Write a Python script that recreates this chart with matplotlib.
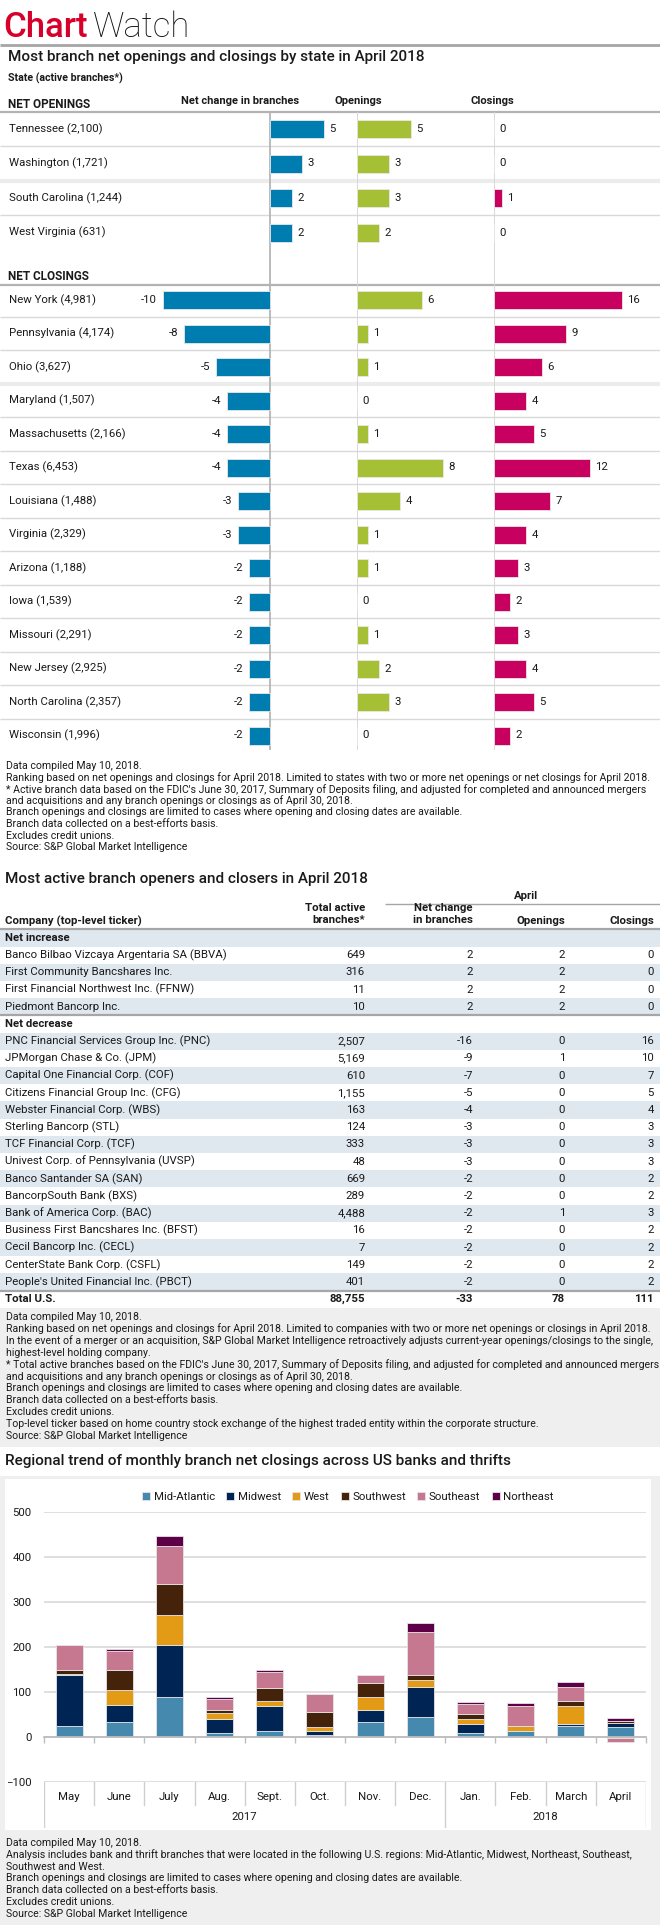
import numpy as np
import matplotlib
matplotlib.use('Agg')
import matplotlib.pyplot as plt
from matplotlib.patches import Rectangle

plt.rcParams['font.family'] = ['Liberation Sans Narrow', 'Roboto', 'DejaVu Sans']
TITLE_FONT = ['Roboto', 'DejaVu Sans']

# ---- chart 1: states
open_states = ['Tennessee', 'Washington', 'South Carolina', 'West Virginia']
open_active = [2100, 1721, 1244, 631]
open_net = [5, 3, 2, 2]
open_openings = [5, 3, 3, 2]
open_closings = [0, 0, 1, 0]

close_states = ['New York', 'Pennsylvania', 'Ohio', 'Maryland', 'Massachusetts', 'Texas',
                'Louisiana', 'Virginia', 'Arizona', 'Iowa', 'Missouri', 'New Jersey',
                'North Carolina', 'Wisconsin']
close_active = [4981, 4174, 3627, 1507, 2166, 6453, 1488, 2329, 1188, 1539, 2291, 2925, 2357, 1996]
close_net = [-10, -8, -5, -4, -4, -4, -3, -3, -2, -2, -2, -2, -2, -2]
close_openings = [6, 1, 1, 0, 1, 8, 4, 1, 1, 0, 1, 2, 3, 0]
close_closings = [16, 9, 6, 4, 5, 12, 7, 4, 3, 2, 3, 4, 5, 2]

# ---- chart 2: companies table
inc_companies = ['Banco Bilbao Vizcaya Argentaria SA (BBVA)', 'First Community Bancshares Inc.',
                 'First Financial Northwest Inc. (FFNW)', 'Piedmont Bancorp Inc.']
inc_active = [649, 316, 11, 10]
inc_net = [2, 2, 2, 2]
inc_open = [2, 2, 2, 2]
inc_close = [0, 0, 0, 0]

dec_companies = ['PNC Financial Services Group Inc. (PNC)', 'JPMorgan Chase & Co. (JPM)',
                 'Capital One Financial Corp. (COF)', 'Citizens Financial Group Inc. (CFG)',
                 'Webster Financial Corp. (WBS)', 'Sterling Bancorp (STL)', 'TCF Financial Corp. (TCF)',
                 'Univest Corp. of Pennsylvania (UVSP)', 'Banco Santander SA (SAN)',
                 'BancorpSouth Bank (BXS)', 'Bank of America Corp. (BAC)',
                 'Business First Bancshares Inc. (BFST)', 'Cecil Bancorp Inc. (CECL)',
                 'CenterState Bank Corp. (CSFL)', "People's United Financial Inc. (PBCT)"]
dec_active = [2507, 5169, 610, 1155, 163, 124, 333, 48, 669, 289, 4488, 16, 7, 149, 401]
dec_net = [-16, -9, -7, -5, -4, -3, -3, -3, -2, -2, -2, -2, -2, -2, -2]
dec_open = [0, 1, 0, 0, 0, 0, 0, 0, 0, 0, 1, 0, 0, 0, 0]
dec_close = [16, 10, 7, 5, 4, 3, 3, 3, 2, 2, 3, 2, 2, 2, 2]

total_row = ('Total U.S.', 88755, -33, 78, 111)

# ---- chart 3: regional monthly net closings
months = ['May', 'June', 'July', 'Aug.', 'Sept.', 'Oct.', 'Nov.', 'Dec.',
          'Jan.', 'Feb.', 'March', 'April']
years = ['2017', '2018']
months_per_year = [8, 4]
regions = ['Mid-Atlantic', 'Midwest', 'West', 'Southwest', 'Southeast', 'Northeast']
mid_atlantic = [24, 33, 90, 9, 14, 4, 34, 44, 10, 14, 24, 23]
midwest = [113, 39, 115, 30, 56, 9, 27, 68, 20, 0, 5, 9]
west = [3, 32, 66, 14, 10, 10, 28, 14, 11, 11, 39, -2]
southwest = [8, 45, 69, 8, 30, 33, 31, 11, 10, 0, 12, 4]
southeast = [57, 43, 85, 24, 35, 39, 17, 96, 23, 45, 32, -9]
northeast = [0, 4, 21, 3, 3, 1, 0, 21, 4, 5, 11, 6]
region_colors = ['#4689AE', '#002554', '#E39A14', '#45230A', '#C5788F', '#5E0047']

notes1 = ['Data compiled May 10, 2018.',
          'Ranking based on net openings and closings for April 2018. Limited to states with two or more net openings or net closings for April 2018.',
          "* Active branch data based on the FDIC's June 30, 2017, Summary of Deposits filing, and adjusted for completed and announced mergers",
          'and acquisitions and any branch openings or closings as of April 30, 2018.',
          'Branch openings and closings are limited to cases where opening and closing dates are available.',
          'Branch data collected on a best-efforts basis.',
          'Excludes credit unions.',
          'Source: S&P Global Market Intelligence']
notes2 = ['Data compiled May 10, 2018.',
          'Ranking based on net openings and closings for April 2018. Limited to companies with two or more net openings or closings in April 2018.',
          'In the event of a merger or an acquisition, S&P Global Market Intelligence retroactively adjusts current-year openings/closings to the single,',
          'highest-level holding company.',
          "* Total active branches based on the FDIC's June 30, 2017, Summary of Deposits filing, and adjusted for completed and announced mergers",
          'and acquisitions and any branch openings or closings as of April 30, 2018.',
          'Branch openings and closings are limited to cases where opening and closing dates are available.',
          'Branch data collected on a best-efforts basis.',
          'Excludes credit unions.',
          'Top-level ticker based on home country stock exchange of the highest traded entity within the corporate structure.',
          'Source: S&P Global Market Intelligence']
notes3 = ['Data compiled May 10, 2018.',
          'Analysis includes bank and thrift branches that were located in the following U.S. regions: Mid-Atlantic, Midwest, Northeast, Southeast,',
          'Southwest and West.',
          'Branch openings and closings are limited to cases where opening and closing dates are available.',
          'Branch data collected on a best-efforts basis.',
          'Excludes credit unions.',
          'Source: S&P Global Market Intelligence']

W, H = 660, 1925
fig = plt.figure(figsize=(W / 100, H / 100), dpi=100)
fig.patch.set_facecolor('white')


def add_ax(x0, y0, x1, y1):
    return fig.add_axes([x0 / W, 1 - y1 / H, (x1 - x0) / W, (y1 - y0) / H])


bg = add_ax(0, 0, W, H)
bg.set_xlim(0, W)
bg.set_ylim(H, 0)
bg.axis('off')

TXT = '#1a1a1a'


def hline(y, x0=0, x1=W, color='#d9d9d9', lw=1.0):
    bg.plot([x0, x1], [y, y], color=color, lw=lw, solid_capstyle='butt', zorder=1)


def notes(lines, y0, step=11.6):
    for i, s in enumerate(lines):
        bg.text(6, y0 + i * step, s, fontsize=7.6, color=TXT, va='center')


# header
t1 = bg.text(3, 37, 'Chart', color='#D6002A', fontsize=25, family=TITLE_FONT,
             weight='medium', va='baseline')
bg.annotate('Watch', xy=(1, 0), xycoords=t1, xytext=(4, 0), textcoords='offset points',
            fontsize=25, family=TITLE_FONT, weight='light', va='bottom', color='#111111')
hline(45, color='#a6a6a6', lw=2)

# ---------------- section 1 ----------------
bg.text(8, 57, 'Most branch net openings and closings by state in April 2018',
        fontsize=11, family=TITLE_FONT, weight='medium', va='center', color=TXT)
bg.text(8, 78, 'State (active branches*)', fontsize=7.6, va='center', color=TXT, weight='bold')
bg.text(8, 104, 'NET OPENINGS', fontsize=8.5, va='center', color=TXT, weight='bold')
bg.text(240, 101, 'Net change in branches', fontsize=8, va='center', ha='center', color=TXT, weight='bold')
bg.text(358, 101, 'Openings', fontsize=8, va='center', ha='center', color=TXT, weight='bold')
bg.text(492, 101, 'Closings', fontsize=8, va='center', ha='center', color=TXT, weight='bold')
hline(112, color='#b3b3b3', lw=1.6)
bg.text(8, 276, 'NET CLOSINGS', fontsize=8.5, va='center', color=TXT, weight='bold')
hline(285, color='#b3b3b3', lw=1.6)

open_y = 129 + 34.5 * np.arange(len(open_states))
close_y = 300 + 33.5 * np.arange(len(close_states))

for i in range(len(open_y) - 1):
    mid = (open_y[i] + open_y[i + 1]) / 2
    if i == 1:
        hline(mid, color='#ececec', lw=3)
    else:
        hline(mid)
for i in range(len(close_y) - 1):
    mid = (close_y[i] + close_y[i + 1]) / 2
    if i == 2:
        hline(mid, color='#ececec', lw=3)
    else:
        hline(mid)

for s, a, y in zip(open_states, open_active, open_y):
    bg.text(9, y, f'{s} ({a:,})', fontsize=8.2, va='center', color=TXT)
for s, a, y in zip(close_states, close_active, close_y):
    bg.text(9, y, f'{s} ({a:,})', fontsize=8.2, va='center', color=TXT)

Y_TOP, Y_BOT = 112, 750


def bar_ax(x0, x1, zero, scale, linecolor):
    ax = add_ax(x0, Y_TOP, x1, Y_BOT)
    ax.set_xlim((x0 - zero) / scale, (x1 - zero) / scale)
    ax.set_ylim(Y_BOT, Y_TOP)
    ax.axis('off')
    ax.axvline(0, color=linecolor, lw=1.3, zorder=0)
    return ax


def bars(ax, ys, vals, color):
    ax.barh(ys, vals, height=18, color=color, edgecolor='#e8e8e8', linewidth=0.6, zorder=2)
    for y, v in zip(ys, vals):
        if v < 0:
            ax.annotate(f'{v}', (v, y), xytext=(-4, 0), textcoords='offset points',
                        ha='right', va='center', fontsize=8.2, color=TXT)
        else:
            ax.annotate(f'{v}', (v, y), xytext=(4, 0), textcoords='offset points',
                        ha='left', va='center', fontsize=8.2, color=TXT)


net_ax = bar_ax(120, 357, 270, 10.75, '#b5b5b5')
open_ax = bar_ax(357, 494, 357, 10.75, '#d6d6d6')
close_ax = bar_ax(494, 660, 494, 8.0, '#d6d6d6')

bars(net_ax, open_y, open_net, '#007DB0')
bars(net_ax, close_y, close_net, '#007DB0')
bars(open_ax, open_y, open_openings, '#A5C035')
bars(open_ax, close_y, close_openings, '#A5C035')
bars(close_ax, open_y, open_closings, '#C8005F')
bars(close_ax, close_y, close_closings, '#C8005F')

notes(notes1, 766, 11.6)

# ---------------- section 2: table ----------------
bg.text(5, 879, 'Most active branch openers and closers in April 2018',
        fontsize=11, family=TITLE_FONT, weight='medium', va='center', color=TXT)
bg.text(526, 896, 'April', fontsize=8.2, ha='center', va='center', color=TXT, weight='bold')
hline(904, x0=385, x1=W, color='#a6a6a6', lw=1.0)
cols_x = [365, 473, 565, 654]
bg.text(5, 921, 'Company (top-level ticker)', fontsize=8.2, va='center', color=TXT, weight='bold')
bg.text(cols_x[0], 908, 'Total active', fontsize=8.2, ha='right', va='center', color=TXT, weight='bold')
bg.text(cols_x[0], 920, 'branches*', fontsize=8.2, ha='right', va='center', color=TXT, weight='bold')
bg.text(cols_x[1], 908, 'Net change', fontsize=8.2, ha='right', va='center', color=TXT, weight='bold')
bg.text(cols_x[1], 920, 'in branches', fontsize=8.2, ha='right', va='center', color=TXT, weight='bold')
bg.text(cols_x[2], 921, 'Openings', fontsize=8.2, ha='right', va='center', color=TXT, weight='bold')
bg.text(cols_x[3], 921, 'Closings', fontsize=8.2, ha='right', va='center', color=TXT, weight='bold')

rows = [('Net increase', None)]
rows += [(c, (a, n, o, cl)) for c, a, n, o, cl in zip(inc_companies, inc_active, inc_net, inc_open, inc_close)]
rows += [('Net decrease', None)]
rows += [(c, (a, n, o, cl)) for c, a, n, o, cl in zip(dec_companies, dec_active, dec_net, dec_open, dec_close)]
rows += [(total_row[0], total_row[1:])]

ROW0, STEP = 938, 17.2
for i, (name, vals) in enumerate(rows):
    y = ROW0 + i * STEP
    if i % 2 == 0:
        bg.add_patch(Rectangle((0, y - STEP / 2), W, STEP, color='#DFE7EF', zorder=0, lw=0))
    bold = vals is None or i == len(rows) - 1
    bg.text(5, y, name, fontsize=8.2, va='center', color=TXT, weight='bold' if bold else 'normal')
    if vals is not None:
        for x, v in zip(cols_x, vals):
            bg.text(x, y, f'{v:,}', fontsize=8.2, ha='right', va='center', color=TXT,
                    weight='bold' if bold else 'normal')

hline(ROW0 - STEP / 2, color='#a6a6a6', lw=1.6)
hline(ROW0 + (len(inc_companies) + 0.5) * STEP, color='#a6a6a6', lw=1.6)
hline(ROW0 + (len(rows) - 1.5) * STEP, color='#a6a6a6', lw=1.6)

foot2_top = ROW0 + (len(rows) - 0.5) * STEP
bg.add_patch(Rectangle((0, foot2_top), W, 1447 - foot2_top, color='#EFEFEF', zorder=0, lw=0))
notes(notes2, foot2_top + 9, 11.9)

# ---------------- section 3: stacked bars ----------------
bg.text(5, 1461, 'Regional trend of monthly branch net closings across US banks and thrifts',
        fontsize=11, family=TITLE_FONT, weight='medium', va='center', color=TXT)
bg.add_patch(Rectangle((0, 1476), W, H - 1476, color='#EFEFEF', zorder=0, lw=0))
bg.add_patch(Rectangle((5, 1479), 646, 351, color='white', zorder=0.5, lw=0))

ax = add_ax(44, 1512, 646, 1782)
ax.set_facecolor('none')
ax.set_xlim(-0.5, len(months) - 0.5)
ax.set_ylim(-100, 500)
x = np.arange(len(months))
pos_base = np.zeros(len(months))
neg_base = np.zeros(len(months))
for vals, name, c in zip([mid_atlantic, midwest, west, southwest, southeast, northeast],
                         regions, region_colors):
    v = np.array(vals, dtype=float)
    bottom = np.where(v >= 0, pos_base, neg_base)
    ax.bar(x, v, 0.54, bottom=bottom, color=c, edgecolor='#e4e4e4', linewidth=0.6,
           label=name, zorder=3)
    pos_base += np.clip(v, 0, None)
    neg_base += np.clip(v, None, 0)

ax.set_yticks(np.arange(-100, 501, 100))
ax.grid(axis='y', color='#dcdcdc', lw=1.3, zorder=0)
ax.tick_params(axis='y', length=0, pad=9, labelsize=8.2, labelcolor=TXT)
for side in ['left', 'right', 'top']:
    ax.spines[side].set_visible(False)
ax.spines['bottom'].set_position(('data', 0))
ax.spines['bottom'].set_color('#bdbdbd')
ax.spines['bottom'].set_linewidth(1.3)
ax.spines['bottom'].set_zorder(4)
ax.set_xticks(np.arange(-0.5, len(months), 1))
ax.set_xticklabels([])
ax.tick_params(axis='x', length=4, color='#bdbdbd', width=1, direction='out')

lab = add_ax(44, 1782, 646, 1828)
lab.set_xlim(-0.5, len(months) - 0.5)
lab.set_ylim(1, 0)
lab.axis('off')
edges = np.cumsum([0] + months_per_year) - 0.5
for b in np.arange(-0.5, len(months), 1):
    full = np.any(np.isclose(edges, b))
    lab.plot([b, b], [0, 1 if full else 0.5], color='#cfcfcf', lw=1)
for i, m in enumerate(months):
    lab.text(i, 0.33, m, ha='center', va='center', fontsize=8.2, color=TXT)
for yname, a, b in zip(years, edges[:-1], edges[1:]):
    lab.text((a + b) / 2, 0.76, yname, ha='center', va='center', fontsize=8.2, color=TXT)

handles, labels = ax.get_legend_handles_labels()
fig.legend(handles, labels, loc='center', bbox_to_anchor=(348 / W, 1 - 1497 / H), ncol=6,
           frameon=False, fontsize=8.2, handlelength=0.7, handleheight=0.7,
           handletextpad=0.3, columnspacing=1.0, labelcolor=TXT)

notes(notes3, 1843, 11.8)

fig.savefig('out.png', dpi=100, facecolor='white')
